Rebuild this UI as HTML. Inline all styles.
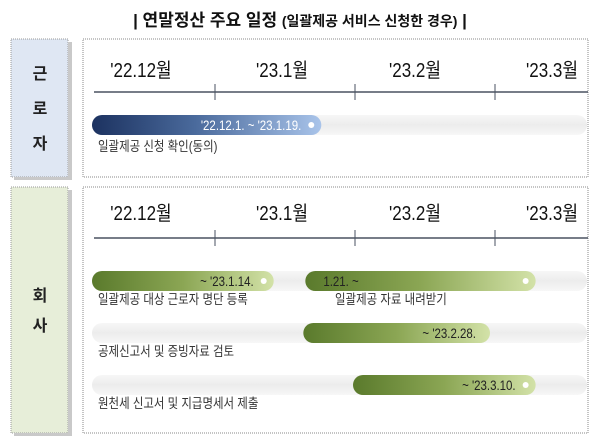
<!DOCTYPE html>
<html><head><meta charset="utf-8">
<style>
html,body{margin:0;padding:0;background:#fff;}
body{width:600px;height:440px;overflow:hidden;font-family:"Liberation Sans","Noto Sans CJK KR",sans-serif;}
text{font-family:"Liberation Sans","Noto Sans CJK KR",sans-serif;}
</style></head>
<body>
<svg id="chart" width="600" height="440" viewBox="0 0 600 440" xmlns="http://www.w3.org/2000/svg">
<defs>
<linearGradient id="gBlue" x1="0" x2="1" y1="0" y2="0"><stop offset="0" stop-color="#1c3260"/><stop offset="0.45" stop-color="#4a6a9c"/><stop offset="1" stop-color="#a9c4ea"/></linearGradient>
<linearGradient id="gGreen" x1="0" x2="1" y1="0" y2="0"><stop offset="0" stop-color="#5a7a2c"/><stop offset="0.5" stop-color="#8ba654"/><stop offset="1" stop-color="#d3e2a8"/></linearGradient>
<linearGradient id="gTrack" x1="0" x2="0" y1="0" y2="1"><stop offset="0" stop-color="#f7f7f7"/><stop offset="0.5" stop-color="#ececec"/><stop offset="1" stop-color="#f7f7f7"/></linearGradient>
</defs>
<text x="300" y="26" text-anchor="middle" font-size="17" font-weight="bold" fill="#111">| 연말정산 주요 일정 <tspan font-size="14">(일괄제공 서비스 신청한 경우)</tspan> |</text>
<g id="layer"></g>
</svg>
<script>
// data
const monthLabels = ["'22.12월","'23.1월","'23.2월","'23.3월"];
const sectionNames = ["근로자","회사"];
const taskNames = ["일괄제공 신청 확인(동의)","일괄제공 대상 근로자 명단 등록","일괄제공 자료 내려받기","공제신고서 및 증빙자료 검토","원천세 신고서 및 지급명세서 제출"];
const taskStartMonth = [12,12,1,1,2];
const taskStartDay = [1,1,21,21,1];
const taskEndMonth = [1,1,3,2,3];
const taskEndDay = [19,14,10,28,10];
const taskLabels = ["'22.12.1. ~ '23.1.19.","~ '23.1.14.","1.21. ~","~ '23.2.28.","~ '23.3.10."];

const NS="http://www.w3.org/2000/svg";
const layer=document.getElementById('layer');
function mk(tag,attrs,parent){const e=document.createElementNS(NS,tag);for(const k in attrs)e.setAttribute(k,attrs[k]);(parent||layer).appendChild(e);return e;}
function xDate(m,d){
  const idx = m===12?-1:m-1;
  const base=215+idx*140;
  const len = m===12?31:(m===1?31:(m===2?28:31));
  return base+(d-1)/len*140;
}
const tickX=[xDate(1,1),xDate(2,1),xDate(3,1)];
const labelX=[141,282,415,552];
const sections=[{y0:39,y1:177,fill:"#dfe7f3",axisY:92,labY:70,rows:[125],endPad:25},{y0:187,y1:433,fill:"#e7eed9",axisY:238,labY:213,rows:[281,333,385],endPad:0}];
const trackL=92,trackR=587;

sections.forEach((s,si)=>{
  const lb=mk('rect',{x:11,y:s.y0,width:57,height:s.y1-s.y0,fill:s.fill,stroke:"#9a9a9a","stroke-dasharray":"1,1"});
  
  
  mk('rect',{x:68,y:s.y0+3,width:4,height:s.y1-s.y0,fill:"#c9c9c9"});
  mk('rect',{x:14,y:s.y1,width:58,height:3,fill:"#c9c9c9"});
  const chars=sectionNames[si].split('');
  const mid=(s.y0+s.y1)/2, gap=si===0?35:30;
  chars.forEach((c,i)=>{
    const t=mk('text',{x:40,y:mid+(i-(chars.length-1)/2)*gap+6,"text-anchor":"middle","font-size":"16","font-weight":"bold",fill:"#222"});
    t.textContent=c;
    
    
  });
  const pb=mk('rect',{x:83,y:s.y0,width:505,height:s.y1-s.y0,fill:"none",stroke:"#8a8a8a","stroke-dasharray":"1,1"});
  
  
  const ax=mk('line',{x1:94,x2:588,y1:s.axisY,y2:s.axisY,stroke:"#4a5260","stroke-width":"1.5"});
  
  
  tickX.forEach(x=>{
    const tk=mk('line',{x1:x,x2:x,y1:s.axisY-8,y2:s.axisY+8,stroke:"#4a5260","stroke-width":"1"});
    
    
  });
  monthLabels.forEach((m,i)=>{
    const t=mk('text',{x:labelX[i],y:s.labY+7,"text-anchor":"middle","font-size":"20",fill:"#111",transform:`translate(${labelX[i]},0) scale(0.85,1) translate(${-labelX[i]},0)`});
    t.textContent=m;
    
    
  });
  s.rows.forEach(cy=>{
    const tr=mk('rect',{x:trackL,y:cy-10,width:trackR-trackL,height:20,rx:10,fill:"url(#gTrack)"});
    
    
  });
});

const rowInfo=[[0,0],[1,0],[1,0],[1,1],[1,2]];
taskNames.forEach((name,i)=>{
  const [si,ri]=rowInfo[i];
  const s=sections[si];const cy=s.rows[ri];
  let x0=Math.max(trackL,xDate(taskStartMonth[i],taskStartDay[i]));
  let x1=Math.min(trackR,xDate(taskEndMonth[i],taskEndDay[i])+s.endPad);
  if(i===3||i===4) x0-=2;
  const b=mk('rect',{x:x0,y:cy-10,width:x1-x0,height:20,rx:10,fill:si===0?"url(#gBlue)":"url(#gGreen)"});
  
  
  const hasDot=(i!==3);
  if(hasDot){const d=mk('circle',{cx:x1-10,cy:cy,r:3,fill:"#fff"});
    
    }
  const start=(i===2);
  const tx=start?x0+18:x1-(hasDot?20:14);
  const t=mk('text',{x:tx,y:cy+5,"text-anchor":start?"start":"end","font-size":"14",fill:si===0?"#fff":"#222",transform:`translate(${tx},0) scale(0.82,1) translate(${-tx},0)`});
  t.textContent=taskLabels[i];
  
  
  const lx=(i===2)?335:98;
  const ly=cy+(si===0?26:23);
  const n=mk('text',{x:lx,y:ly,"font-size":"13.5",fill:"#333",transform:`translate(${lx},0) scale(0.85,1) translate(${-lx},0)`});
  n.textContent=name;
  
  
});
</script>
</body></html>
